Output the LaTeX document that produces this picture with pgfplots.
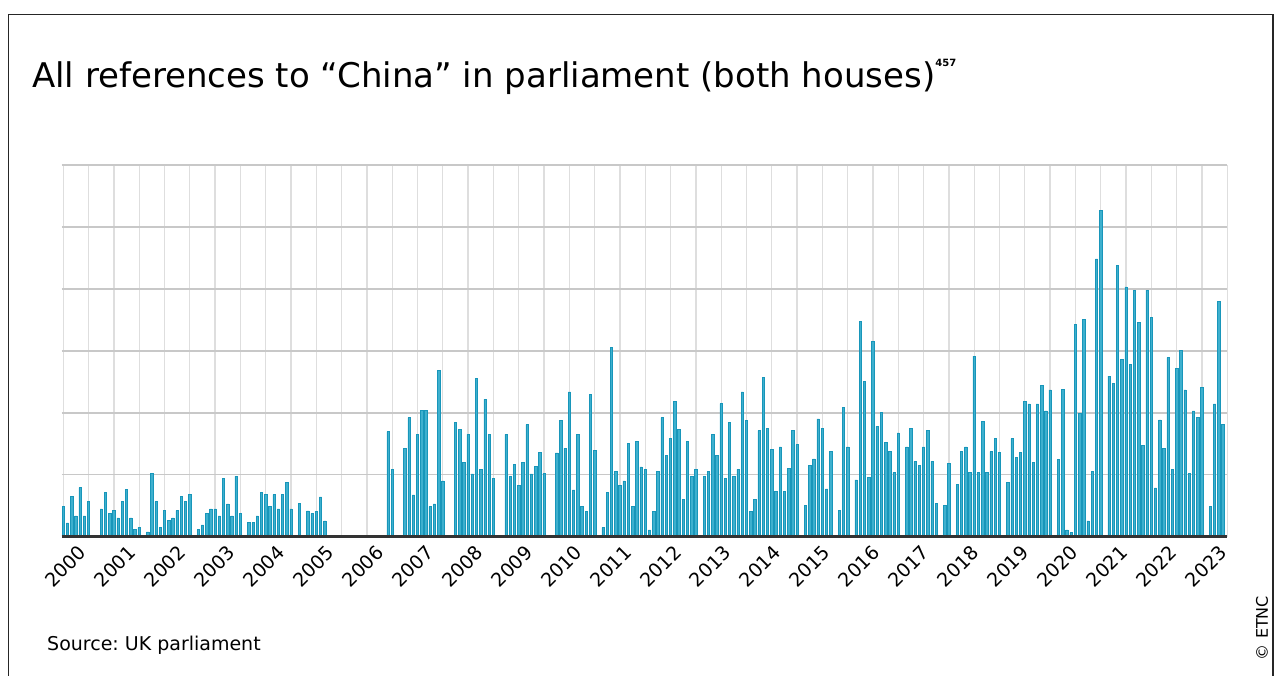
\documentclass[border=0pt]{standalone}
\usepackage{fontspec}
\setmainfont{DejaVu Sans}
\usepackage{pgfplots}
\usepackage{pgfplotstable}
\pgfplotsset{compat=1.18}
\frenchspacing
\definecolor{barfill}{RGB}{62,176,206}
\definecolor{baredge}{RGB}{24,150,186}
\definecolor{vgrid}{RGB}{222,222,222}
\definecolor{hgrid}{RGB}{200,200,200}
\pgfplotstableread{
m v
0 30.3
1 13.7
2 40
3 20.7
4 49
5 20.7
6 35
9 27.7
10 44.3
11 23
12 26
13 18.7
14 35
15 47
16 18.7
17 7
18 9
20 4.7
21 63
22 35
23 9
24 26
25 16.3
26 18.7
27 26
28 40
29 35
30 42
32 7
33 11.7
34 23
35 27.7
36 27.7
37 20.7
38 58.3
39 32.7
40 20.7
41 60.3
42 23
44 14
45 14
46 20.7
47 44.3
48 42
49 30.3
50 42
51 27.7
52 42
53 54
54 27.7
56 33
58 25.7
59 23
60 25.3
61 39.7
62 15.7
77 105
78 67.3
81 88.3
82 119
83 41.7
84 102.3
85 126
86 126
87 30
88 32.7
89 166
90 55.7
93 114
94 107
95 74.3
96 102.3
97 62.7
98 158.7
99 67.3
100 137.3
101 102.3
102 58
105 102.3
106 60.3
107 72
108 51
109 74.3
110 112
111 62.7
112 70
113 84
114 63
117 83.7
118 116.3
119 88.3
120 144.7
121 46.7
122 102.3
123 30
124 25.3
125 142.3
126 86.3
128 9
129 44
130 189
131 65
132 51.3
133 55.7
134 93
135 30
136 95.3
137 69.7
138 67.3
139 6.7
140 25.3
141 65
142 119
143 81.3
144 98
145 135
146 107
147 37
148 95.3
149 60.3
150 67.3
152 60.3
153 65
154 102.3
155 81.3
156 133
157 58
158 114
159 60.3
160 67.3
161 144.7
162 116.3
163 25.3
164 37
165 106
166 159
167 108
168 87.3
169 45
170 89.7
171 45
172 68.3
173 106
174 92
176 31
177 71
178 77.7
179 117.7
180 108.3
181 47.7
182 85
184 26.3
185 129
186 89.7
188 56.7
189 215.7
190 155
191 59.3
192 195
193 110.3
194 124.3
195 94.3
196 85
197 64
198 103.7
200 89.7
201 108.3
202 75.3
203 71
204 89.7
205 106
206 75.3
207 33.3
209 31
210 73.3
212 52.3
213 85
214 89.7
215 64
216 180.7
217 64
218 115
219 64
220 85
221 98.5
222 84
224 54
225 98
226 79
227 84
228 135
229 132.7
230 74
231 132.7
232 151.7
233 125.7
234 146.7
236 77
237 147
238 6.7
239 4
240 212.3
241 123.3
242 217.3
243 15.7
244 65.3
245 278
246 326.7
248 160.7
249 153.3
250 271.3
251 177.3
252 250
253 172.3
254 246.7
255 214.7
256 91.3
257 246.7
258 219
259 48.7
260 116.7
261 88.3
262 179
263 67.3
264 168
265 186.7
266 146.7
267 63
268 125.7
269 119
270 149
272 30
273 132.7
274 235.7
275 112
}\datatable
\begin{document}
\begin{tikzpicture}
\useasboundingbox (0,0) rectangle (1284pt,675pt);
% frame
\draw[line width=1.3pt, black!85] (8.5pt,-2pt) -- (8.5pt,660.5pt) -- (1273pt,660.5pt) -- (1273pt,-2pt);
% title
\node[anchor=base west, inner sep=0pt, font=\fontsize{34}{39}\selectfont] at (32pt,587pt)
  {All references to “China” in parliament (both houses)\raisebox{0.62em}{\fontsize{10}{10}\selectfont\bfseries 457}};
\begin{axis}[
  at={(61.6pt,138.5pt)}, anchor=south west,
  width=1165.6pt, height=371.5pt, scale only axis,
  xmin=-0.4, xmax=276, ymin=0, ymax=372,
  axis line style={draw=none},
  tick style={draw=none},
  xtick={0,6,...,276}, xticklabels={},
  ytick={62,124,186,248,310,372}, yticklabels={},
  xmajorgrids, ymajorgrids,
  x grid style={vgrid, line width=1.3pt},
  y grid style={hgrid, line width=1.8pt},
  extra x ticks={0.52,12.28,24.04,35.80,47.56,59.32,71.08,82.84,94.60,106.36,118.12,129.88,141.64,153.40,165.16,176.92,188.68,200.44,212.20,223.96,235.72,247.48,259.24,271.00},
  extra x tick labels={2000,2001,2002,2003,2004,2005,2006,2007,2008,2009,2010,2011,2012,2013,2014,2015,2016,2017,2018,2019,2020,2021,2022,2023},
  extra x tick style={grid=none, tick style={draw=none},
    xticklabel style={anchor=center, yshift=-30pt, rotate=45, inner sep=0pt,
      font=\fontsize{19}{22}\selectfont}},
  clip=false,
]
\addplot[ybar, bar width=2.4pt, fill=barfill, draw=baredge, line width=0.6pt]
  table[x=m, y=v] {\datatable};
\addplot[black!80, line width=2.6pt, forget plot] coordinates {(-0.4,0) (276,0)};
\end{axis}
\node[anchor=base west, inner sep=0pt, font=\fontsize{19}{23}\selectfont] at (47pt,25pt) {Source: UK parliament};
\node[rotate=90, inner sep=0pt, font=\fontsize{16}{19}\selectfont] at (1262pt,47pt) {© ETNC};
\end{tikzpicture}
\end{document}
